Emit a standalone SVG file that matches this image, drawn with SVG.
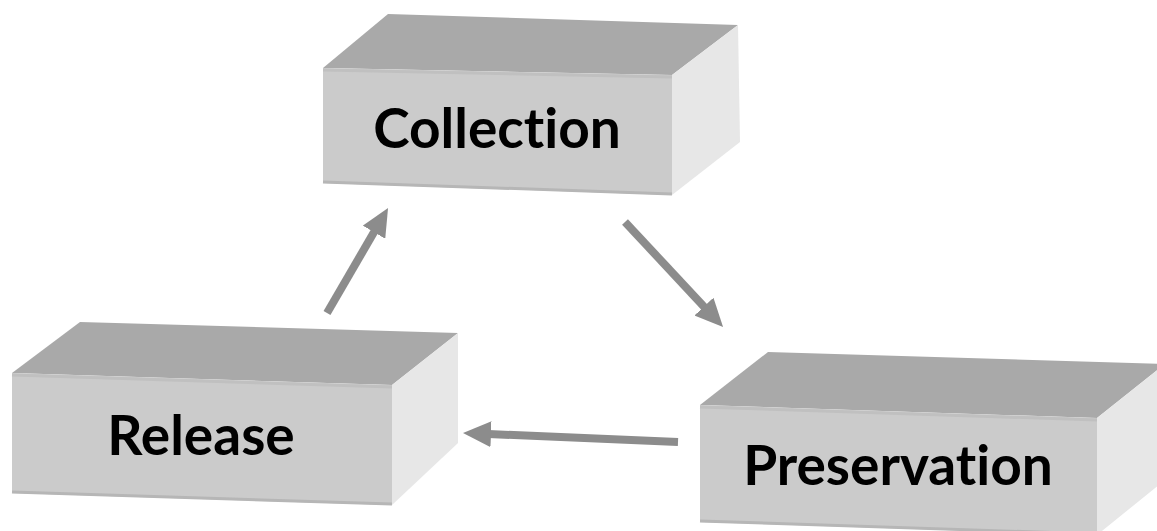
<svg xmlns="http://www.w3.org/2000/svg" width="1157" height="531" viewBox="0 0 1157 531">
  <defs>
    <style>
      .top { fill: #a9a9a9; }
      .front { fill: #cbcbcb; }
      .side { fill: #e7e7e7; }
      .bevel { fill: none; stroke: #c0c0c0; stroke-width: 3; }
      .base { fill: none; stroke: #b6b6b6; stroke-width: 3; }
      .label { font-family: Lato, "Open Sans", "Liberation Sans", sans-serif; font-weight: bold; font-size: 55px; fill: #000; text-anchor: middle; font-variant-ligatures: none; font-feature-settings: "liga" 0, "clig" 0; }
      .conn { stroke: #8c8c8c; stroke-width: 8; fill: none; marker-end: url(#head); }
    </style>
    <marker id="head" viewBox="0 0 28 26" refX="8" refY="13" markerWidth="28" markerHeight="26" markerUnits="userSpaceOnUse" orient="auto">
      <path d="M0,0 L28,13 L0,26 Z" fill="#8c8c8c"/>
    </marker>
  </defs>
  <rect width="1157" height="531" fill="#ffffff"/>

  <g id="collection">
    <polygon class="top" points="323,68 388,14 738,25 672,75"/>
    <polygon class="front" points="323,68 672,75 672,195 323,183"/>
    <polygon class="side" points="672,75 738,25 740,142 672,195"/>
    <line class="bevel" x1="323" y1="70" x2="672" y2="77"/>
    <line class="base" x1="323" y1="182" x2="672" y2="194"/>
    <text class="label" x="497" y="148">Collection</text>
  </g>

  <g id="release">
    <polygon class="top" points="12,373 80,322 458,333 392,385"/>
    <polygon class="front" points="12,373 392,385 392,505 12,493"/>
    <polygon class="side" points="392,385 458,333 458,443 392,505"/>
    <line class="bevel" x1="12" y1="375" x2="392" y2="387"/>
    <line class="base" x1="12" y1="492" x2="392" y2="504"/>
    <text class="label" x="201" y="455">Release</text>
  </g>

  <g id="preservation">
    <polygon class="top" points="700,405 768,352 1165,364 1097,418"/>
    <polygon class="front" points="700,405 1097,418 1097,535 700,522"/>
    <polygon class="side" points="1097,418 1165,364 1165,480 1097,535"/>
    <line class="bevel" x1="700" y1="407" x2="1097" y2="420"/>
    <line class="base" x1="700" y1="521" x2="1097" y2="534"/>
    <text class="label" x="898" y="485">Preservation</text>
  </g>

  <g id="connectors">
    <line class="conn" x1="327" y1="313" x2="378" y2="225.3"/>
    <line class="conn" x1="625" y1="222" x2="709.4" y2="312.4"/>
    <line class="conn" x1="678" y1="442" x2="483" y2="433.8"/>
  </g>
</svg>
